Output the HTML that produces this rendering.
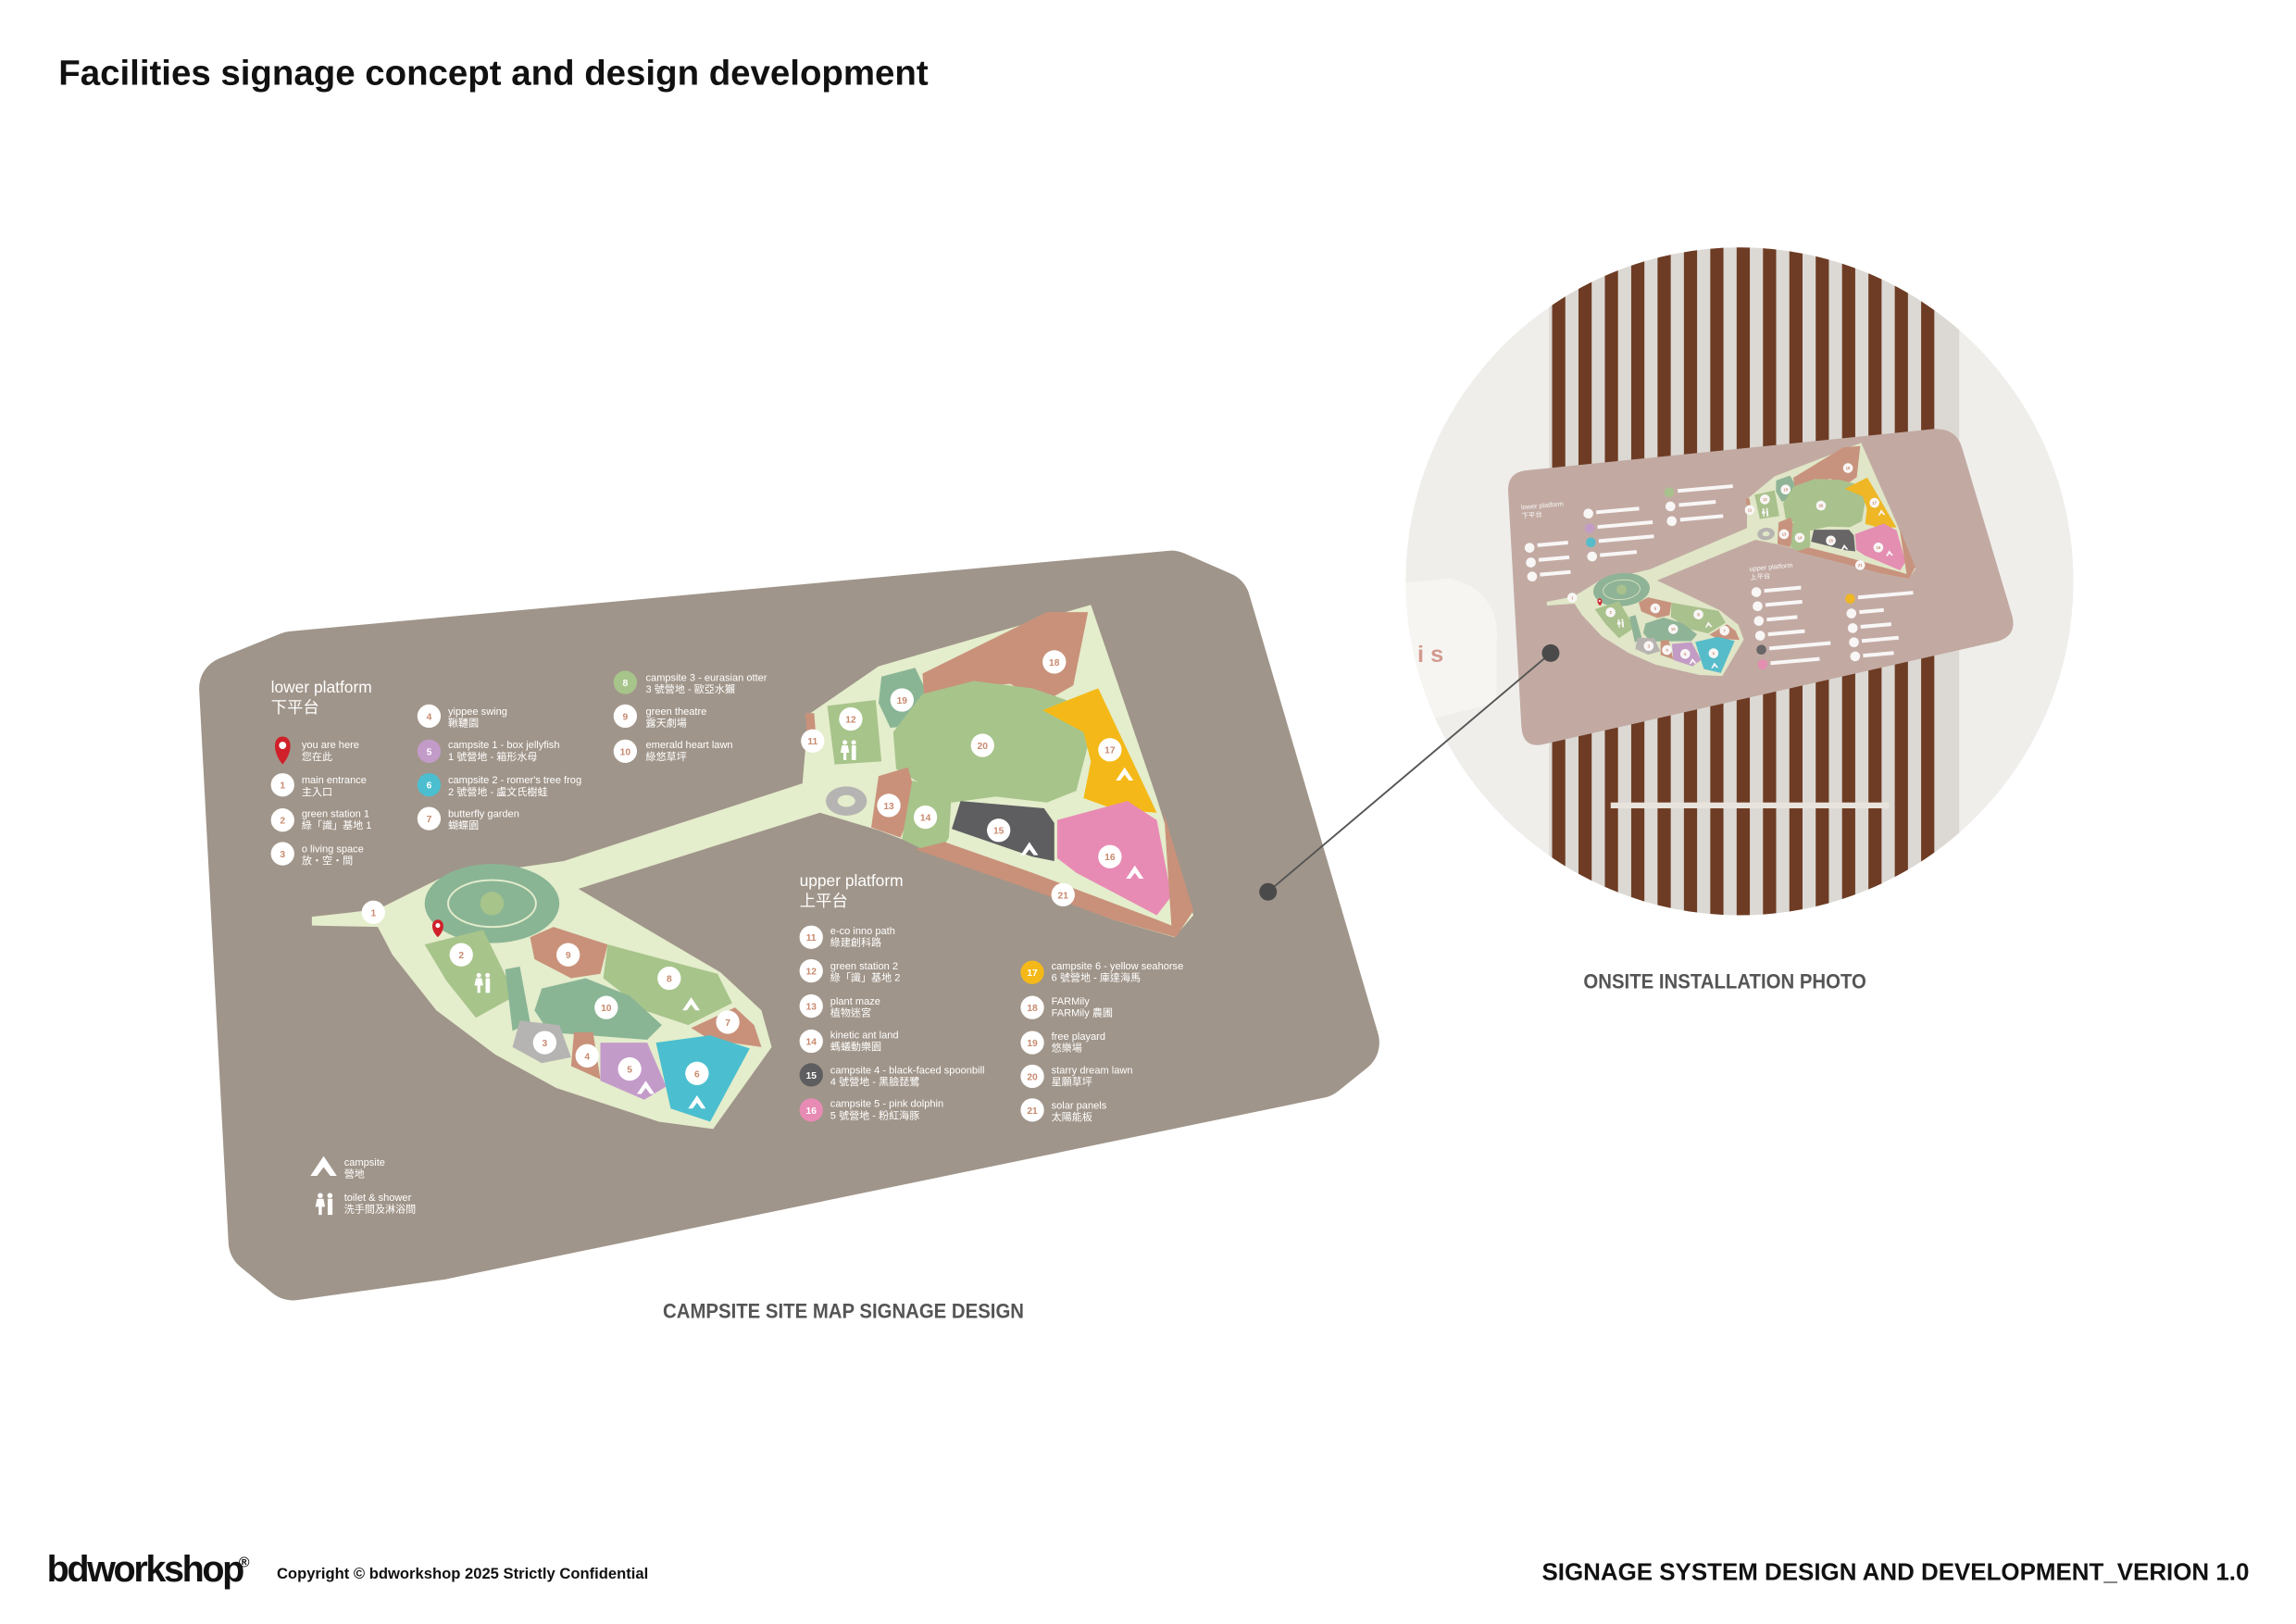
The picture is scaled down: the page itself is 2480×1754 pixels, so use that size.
<!DOCTYPE html>
<html><head><meta charset="utf-8"><style>
html,body{margin:0;padding:0;background:#fff;}
svg{display:block;}
text{font-family:"Liberation Sans","Noto Sans CJK TC",sans-serif;}
</style></head><body>
<svg width="2480" height="1754" viewBox="0 0 1568 1109" xmlns="http://www.w3.org/2000/svg" xmlns:xlink="http://www.w3.org/1999/xlink">
<defs>
<clipPath id="pc"><circle cx="1188" cy="397" r="228"/></clipPath>
<g id="tent"><path d="M-6,4 L0,-5 L6,4 L3,4 L0,0 L-3,4Z" fill="#fff"/></g>
<g id="wc" fill="#fff"><circle cx="-3" cy="-6" r="1.6"/><path d="M-5,-4 h4 l1,5 h-2 v5 h-2 v-5 h-2z"/><circle cx="3" cy="-6" r="1.6"/><rect x="1.6" y="-4" width="3" height="10"/></g>
<g id="map">
 <path d="M213,626 L258,621 L300,600 L385,588 L548,535 L552,488 L600,455 L745,413 L790,545 L815,625 L802,640 L760,628 L600,567 L560,555 L395,607 L492,664 L520,690 L527,715 L487,771 L450,766 L380,743 L338,720 L298,690 L268,652 L258,633 L213,632Z" fill="#e4edcc"/>
 <ellipse cx="336" cy="617" rx="46" ry="27" fill="#8ab595"/>
 <ellipse cx="336" cy="617" rx="30" ry="16" fill="none" stroke="#e4edcc" stroke-width="1.2"/>
 <circle cx="336" cy="617" r="8" fill="#a7c48a"/>
 <path d="M290,645 L330,635 L352,680 L325,695 L305,670Z" fill="#a7c48a"/>
 <path d="M345,662 L355,660 L362,698 L350,704Z" fill="#8ab595"/>
 <path d="M362,640 L378,633 L415,645 L410,665 L390,668 L365,655Z" fill="#c9917a"/>
 <path d="M415,645 L490,665 L500,685 L470,700 L440,690 L412,668Z" fill="#a7c48a"/>
 <path d="M370,675 L400,668 L430,680 L452,700 L442,710 L375,705 L365,690Z" fill="#8ab595"/>
 <path d="M502,688 L515,700 L520,715 L485,710 L472,702Z" fill="#c9917a"/>
 <path d="M355,697 L382,700 L390,722 L370,726 L350,715Z" fill="#b6b4b2"/>
 <path d="M392,705 L405,705 L410,737 L390,728Z" fill="#c9917a"/>
 <path d="M410,712 L442,712 L455,742 L440,751 L410,738Z" fill="#c39bc9"/>
 <path d="M448,712 L485,707 L512,716 L485,766 L458,757 L452,730Z" fill="#4bbfcf"/>
 <path d="M550,487 L556,487 L557,500 L551,500Z" fill="#c9917a"/>
 <path d="M565,482 L598,478 L602,520 L570,522Z" fill="#a7c48a"/>
 <path d="M602,462 L625,456 L634,475 L630,495 L608,497 L600,480Z" fill="#8ab595"/>
 <path d="M630,460 L715,418 L743,418 L733,468 L712,480 L690,467 L655,470 L632,490Z" fill="#c9917a"/>
 <path d="M610,500 L630,474 L665,465 L705,470 L728,478 L744,505 L735,540 L715,548 L680,544 L650,548 L612,525Z" fill="#a7c48a"/>
 <path d="M712,485 L750,470 L790,555 L762,553 L740,545 L745,520 L740,500Z" fill="#f4b918"/>
 <path d="M600,530 L620,524 L626,545 L615,572 L595,565Z" fill="#c9917a"/>
 <path d="M623,533 L650,540 L648,572 L640,585 L616,573Z" fill="#a7c48a"/>
 <path d="M656,547 L713,552 L720,562 L720,588 L705,585 L650,566Z" fill="#5e5e60"/>
 <path d="M722,560 L770,547 L790,560 L800,612 L790,625 L735,596 L722,586Z" fill="#e88bb4"/>
 <path d="M645,575 L705,596 L790,628 L800,632 L795,556 L815,622 L803,640 L760,628 L700,606 L625,580Z" fill="#c9917a"/>
 <ellipse cx="578" cy="547" rx="14" ry="10" fill="#b6b4b2"/>
 <ellipse cx="578" cy="547" rx="6" ry="4" fill="#e4edcc"/>
 <g fill="#fff">
  <circle cx="255" cy="623" r="8"/><circle cx="315" cy="652" r="8"/><circle cx="388" cy="652" r="8"/>
  <circle cx="457" cy="668" r="8"/><circle cx="414" cy="688" r="8"/><circle cx="497" cy="698" r="8"/>
  <circle cx="372" cy="712" r="8"/><circle cx="401" cy="721" r="8"/><circle cx="430" cy="730" r="8"/>
  <circle cx="476" cy="733" r="8"/><circle cx="555" cy="506" r="8"/><circle cx="581" cy="491" r="8"/>
  <circle cx="616" cy="478" r="8"/><circle cx="720" cy="452" r="8"/><circle cx="671" cy="509" r="8"/>
  <circle cx="758" cy="512" r="8"/><circle cx="607" cy="550" r="8"/><circle cx="632" cy="558" r="8"/>
  <circle cx="682" cy="567" r="8"/><circle cx="758" cy="585" r="8"/><circle cx="726" cy="611" r="8"/>
 </g>
 <g font-size="6.5" fill="#c88a6f" text-anchor="middle" font-weight="bold">
  <text x="255" y="625.5">1</text><text x="315" y="654.5">2</text><text x="388" y="654.5">9</text>
  <text x="457" y="670.5">8</text><text x="414" y="690.5">10</text><text x="497" y="700.5">7</text>
  <text x="372" y="714.5">3</text><text x="401" y="723.5">4</text><text x="430" y="732.5">5</text>
  <text x="476" y="735.5">6</text><text x="555" y="508.5">11</text><text x="581" y="493.5">12</text>
  <text x="616" y="480.5">19</text><text x="720" y="454.5">18</text><text x="671" y="511.5">20</text>
  <text x="758" y="514.5">17</text><text x="607" y="552.5">13</text><text x="632" y="560.5">14</text>
  <text x="682" y="569.5">15</text><text x="758" y="587.5">16</text><text x="726" y="613.5">21</text>
 </g>
 <use xlink:href="#tent" x="472" y="686"/><use xlink:href="#tent" x="441" y="743"/><use xlink:href="#tent" x="476" y="753"/>
 <use xlink:href="#tent" x="768" y="529"/><use xlink:href="#tent" x="703" y="580"/><use xlink:href="#tent" x="775" y="596"/>
 <use xlink:href="#wc" x="330" y="672"/><use xlink:href="#wc" x="580" y="513"/>
 <path d="M299,640 C293,634 295,628 299,628 C303,628 305,634 299,640Z" fill="#d0202a"/><circle cx="299" cy="632" r="1.6" fill="#fff"/>
</g>
</defs>

<text x="40" y="58" font-size="24.3" font-weight="bold" fill="#111">Facilities signage concept and design development</text>

<path d="M200,453 L800,398 L832,412 L920,712 L900,728 L300,852 L200,866 L178,848 L158,470Z" fill="#a0958a" stroke="#a0958a" stroke-width="44" stroke-linejoin="round"/>

<use xlink:href="#map"/>

<g fill="#fff">
<text x="185" y="473" font-size="11">lower platform</text>
<text x="185" y="487" font-size="11">下平台</text>
<path d="M193,522 C186,514 186,503 193,503 C200,503 200,514 193,522Z" fill="#d0202a"/><circle cx="193" cy="509" r="2.5" fill="#fff"/>
<circle cx="193" cy="536" r="8"/><circle cx="193" cy="560" r="8"/><circle cx="193" cy="583" r="8"/>
<circle cx="293" cy="489" r="8"/><circle cx="293" cy="513" r="8" fill="#c39bc9"/><circle cx="293" cy="536" r="8" fill="#4bbfcf"/><circle cx="293" cy="559" r="8"/>
<circle cx="427" cy="466" r="8" fill="#a7c48a"/><circle cx="427" cy="489" r="8"/><circle cx="427" cy="513" r="8"/>
<text x="546" y="605" font-size="11">upper platform</text>
<text x="546" y="619" font-size="11">上平台</text>
<circle cx="554" cy="640" r="8"/><circle cx="554" cy="663" r="8"/><circle cx="554" cy="687" r="8"/><circle cx="554" cy="711" r="8"/>
<circle cx="554" cy="734" r="8" fill="#5e5e60"/><circle cx="554" cy="758" r="8" fill="#e88bb4"/>
<circle cx="705" cy="664" r="8" fill="#f4b918"/><circle cx="705" cy="688" r="8"/><circle cx="705" cy="712" r="8"/><circle cx="705" cy="735" r="8"/><circle cx="705" cy="758" r="8"/>
</g>
<g font-size="6.5" fill="#c88a6f" text-anchor="middle" font-weight="bold">
<text x="193" y="538.5">1</text><text x="193" y="562.5">2</text><text x="193" y="585.5">3</text>
<text x="293" y="491.5">4</text><text x="293" y="515.5" fill="#fff">5</text><text x="293" y="538.5" fill="#fff">6</text><text x="293" y="561.5">7</text>
<text x="427" y="468.5" fill="#fff">8</text><text x="427" y="491.5">9</text><text x="427" y="515.5">10</text>
<text x="554" y="642.5">11</text><text x="554" y="665.5">12</text><text x="554" y="689.5">13</text><text x="554" y="713.5">14</text>
<text x="554" y="736.5" fill="#fff">15</text><text x="554" y="760.5" fill="#fff">16</text>
<text x="705" y="666.5" fill="#fff">17</text><text x="705" y="690.5">18</text><text x="705" y="714.5">19</text><text x="705" y="737.5">20</text><text x="705" y="760.5">21</text>
</g>
<g font-size="7" fill="#fff">
<text x="206" y="511">you are here</text><text x="206" y="519">您在此</text>
<text x="206" y="535">main entrance</text><text x="206" y="543">主入口</text>
<text x="206" y="558">green station 1</text><text x="206" y="566">綠「識」基地 1</text>
<text x="206" y="582">o living space</text><text x="206" y="590">放・空・間</text>
<text x="306" y="488">yippee swing</text><text x="306" y="496">鞦韆園</text>
<text x="306" y="511">campsite 1 - box jellyfish</text><text x="306" y="519">1 號營地 - 箱形水母</text>
<text x="306" y="535">campsite 2 - romer's tree frog</text><text x="306" y="543">2 號營地 - 盧文氏樹蛙</text>
<text x="306" y="558">butterfly garden</text><text x="306" y="566">蝴蝶園</text>
<text x="441" y="465">campsite 3 - eurasian otter</text><text x="441" y="473">3 號營地 - 歐亞水獺</text>
<text x="441" y="488">green theatre</text><text x="441" y="496">露天劇場</text>
<text x="441" y="511">emerald heart lawn</text><text x="441" y="519">綠悠草坪</text>
<text x="567" y="638">e-co inno path</text><text x="567" y="646">綠建創科路</text>
<text x="567" y="662">green station 2</text><text x="567" y="670">綠「識」基地 2</text>
<text x="567" y="686">plant maze</text><text x="567" y="694">植物迷宮</text>
<text x="567" y="709">kinetic ant land</text><text x="567" y="717">螞蟻動樂園</text>
<text x="567" y="733">campsite 4 - black-faced spoonbill</text><text x="567" y="741">4 號營地 - 黑臉琵鷺</text>
<text x="567" y="756">campsite 5 - pink dolphin</text><text x="567" y="764">5 號營地 - 粉紅海豚</text>
<text x="718" y="662">campsite 6 - yellow seahorse</text><text x="718" y="670">6 號營地 - 庫達海馬</text>
<text x="718" y="686">FARMily</text><text x="718" y="694">FARMily 農圃</text>
<text x="718" y="710">free playard</text><text x="718" y="718">悠樂場</text>
<text x="718" y="733">starry dream lawn</text><text x="718" y="741">星願草坪</text>
<text x="718" y="757">solar panels</text><text x="718" y="765">太陽能板</text>
<text x="235" y="796">campsite</text><text x="235" y="804">營地</text>
<text x="235" y="820">toilet &amp; shower</text><text x="235" y="828">洗手間及淋浴間</text>
</g>
<use xlink:href="#tent" transform="translate(221,797) scale(1.5)"/>
<use xlink:href="#wc" transform="translate(222,823) scale(1.1)"/>

<text x="576" y="900" font-size="14" font-weight="bold" fill="#555" text-anchor="middle" transform="translate(576,0) scale(0.92,1) translate(-576,0)">CAMPSITE SITE MAP SIGNAGE DESIGN</text>

<g clip-path="url(#pc)">
 <rect x="950" y="160" width="480" height="480" fill="#efeeeb"/>
 <rect x="1058" y="160" width="280" height="480" fill="#dcd9d4"/>
 <g fill="#6e3c24">
  <rect x="1060" y="160" width="9" height="480"/><rect x="1078" y="160" width="9" height="480"/><rect x="1096" y="160" width="9" height="480"/>
  <rect x="1114" y="160" width="9" height="480"/><rect x="1132" y="160" width="9" height="480"/><rect x="1150" y="160" width="9" height="480"/>
  <rect x="1168" y="160" width="9" height="480"/><rect x="1186" y="160" width="9" height="480"/><rect x="1204" y="160" width="9" height="480"/>
  <rect x="1222" y="160" width="9" height="480"/><rect x="1240" y="160" width="9" height="480"/><rect x="1258" y="160" width="9" height="480"/>
  <rect x="1276" y="160" width="9" height="480"/><rect x="1294" y="160" width="9" height="480"/><rect x="1312" y="160" width="9" height="480"/>
 </g>
 <rect x="1100" y="548" width="190" height="4" fill="#e8e4dd"/>
 <path d="M940,400 L990,395 C1015,400 1025,420 1022,440 L1022,480 L940,500Z" fill="#f6f5f2"/>
 <text x="968" y="452" font-size="16" fill="#d39a8e" font-weight="bold">i s</text>
 <path d="M1044,321 L1320,293 Q1336,292 1340,306 L1374,420 Q1378,434 1364,438 L1055,508 Q1040,512 1039,496 L1030,336 Q1029,322 1044,321Z" fill="#c2aaa3"/>
 <g transform="translate(1030,318) rotate(-5) scale(0.42) translate(-170,-400)" opacity="0.9"><use xlink:href="#map"/>
  <g fill="#fff" font-size="11"><text x="185" y="473">lower platform</text><text x="185" y="487">下平台</text><text x="546" y="605">upper platform</text><text x="546" y="619">上平台</text></g>
  <g fill="#fff"><circle cx="193" cy="536" r="8"/><circle cx="193" cy="560" r="8"/><circle cx="193" cy="583" r="8"/><circle cx="293" cy="489" r="8"/><circle cx="293" cy="513" r="8" fill="#c39bc9"/><circle cx="293" cy="536" r="8" fill="#4bbfcf"/><circle cx="293" cy="559" r="8"/><circle cx="427" cy="466" r="8" fill="#a7c48a"/><circle cx="427" cy="489" r="8"/><circle cx="427" cy="513" r="8"/>
  <circle cx="554" cy="640" r="8"/><circle cx="554" cy="663" r="8"/><circle cx="554" cy="687" r="8"/><circle cx="554" cy="711" r="8"/><circle cx="554" cy="734" r="8" fill="#5e5e60"/><circle cx="554" cy="758" r="8" fill="#e88bb4"/><circle cx="705" cy="664" r="8" fill="#f4b918"/><circle cx="705" cy="688" r="8"/><circle cx="705" cy="712" r="8"/><circle cx="705" cy="735" r="8"/><circle cx="705" cy="758" r="8"/>
  <rect x="206" y="530" width="50" height="6"/><rect x="206" y="554" width="50" height="6"/><rect x="206" y="578" width="50" height="6"/><rect x="306" y="485" width="70" height="6"/><rect x="306" y="509" width="90" height="6"/><rect x="306" y="532" width="90" height="6"/><rect x="306" y="555" width="60" height="6"/><rect x="441" y="462" width="90" height="6"/><rect x="441" y="485" width="60" height="6"/><rect x="441" y="509" width="70" height="6"/>
  <rect x="567" y="636" width="60" height="6"/><rect x="567" y="659" width="60" height="6"/><rect x="567" y="683" width="50" height="6"/><rect x="567" y="707" width="60" height="6"/><rect x="567" y="730" width="100" height="6"/><rect x="567" y="754" width="80" height="6"/><rect x="718" y="660" width="90" height="6"/><rect x="718" y="684" width="40" height="6"/><rect x="718" y="708" width="50" height="6"/><rect x="718" y="731" width="60" height="6"/><rect x="718" y="755" width="50" height="6"/></g>
 </g>
</g>

<line x1="866" y1="609" x2="1059" y2="446" stroke="#555" stroke-width="1.2"/>
<circle cx="866" cy="609" r="6" fill="#4a4a4a"/>
<circle cx="1059" cy="446" r="6" fill="#4a4a4a"/>

<text x="1178" y="675" font-size="14" font-weight="bold" fill="#555" text-anchor="middle" transform="translate(1178,0) scale(0.92,1) translate(-1178,0)">ONSITE INSTALLATION PHOTO</text>

<text x="32" y="1080" font-size="25" font-weight="bold" fill="#111" letter-spacing="-1.5">bdworkshop</text>
<text x="163" y="1070" font-size="10" font-weight="bold" fill="#111">®</text>
<text x="189" y="1078" font-size="10.5" font-weight="bold" fill="#111">Copyright © bdworkshop 2025 Strictly Confidential</text>
<text x="1536" y="1079" font-size="16.4" font-weight="bold" fill="#111" text-anchor="end">SIGNAGE SYSTEM DESIGN AND DEVELOPMENT_VERION 1.0</text>
</svg>
</body></html>
